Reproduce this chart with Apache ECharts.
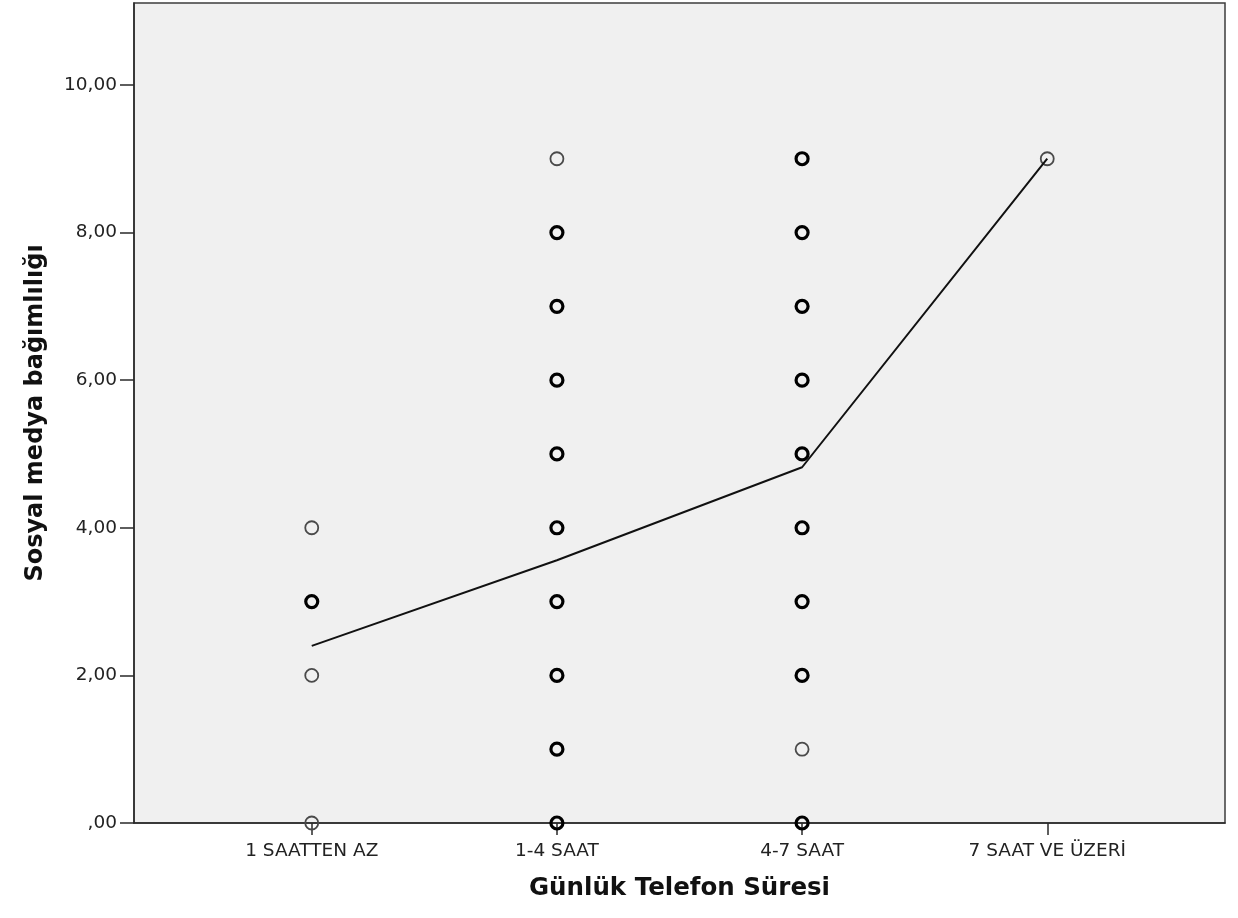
<!DOCTYPE html>
<html>
<head>
<meta charset="utf-8">
<script src="https://cdn.jsdelivr.net/npm/echarts@6/dist/echarts.min.js"></script>
<style>
  html, body { margin: 0; padding: 0; background: #fff; }
  #chart { width: 1238px; height: 918px; }
</style>
</head>
<body>
<div id="chart"></div>
<script>
// Phone-use groups on the x axis (positions 1..4)
const categories = ['1 SAATTEN AZ', '1-4 SAAT', '4-7 SAAT', '7 SAAT VE ÜZERİ'];

// Scores held by a single respondent in each group
const singleScores = [
  [0, 2, 4],
  [9],
  [1],
  [9]
];

// Scores shared by several respondents in each group (overlapping markers)
const multiScores = [
  [3],
  [0, 1, 2, 3, 4, 5, 6, 7, 8],
  [0, 2, 3, 4, 5, 6, 7, 8, 9],
  []
];

// Group means of the addiction score
const groupMeans = [2.40, 3.56, 4.82, 9.00];

// Y tick values
const yTicks = [0, 2, 4, 6, 8, 10];

function toPoints(groups) {
  const pts = [];
  groups.forEach((scores, i) => scores.forEach(s => pts.push([i + 1, s])));
  return pts;
}

function fmtY(v) {
  const s = v.toFixed(2).replace('.', ',');
  return s.startsWith('0,') ? s.slice(1) : s;
}

const chart = echarts.init(document.getElementById('chart'));
const tickFont = '"DejaVu Sans", Verdana, sans-serif';
const titleFont = '"DejaVu Sans", Verdana, sans-serif';

chart.setOption({
  animation: false,
  backgroundColor: '#ffffff',
  grid: {
    left: 134, right: 13, top: 3, bottom: 95,
    show: true, backgroundColor: '#f0f0f0',
    borderColor: '#3c3c3c', borderWidth: 1.5
  },
  xAxis: {
    type: 'value',
    min: 0.275, max: 4.725,
    name: 'Günlük Telefon Süresi',
    nameLocation: 'middle',
    nameGap: 53,
    nameTextStyle: { fontFamily: titleFont, fontWeight: 'bold', fontSize: 24.5, color: '#111' },
    axisLine: { lineStyle: { color: '#2a2a2a', width: 1.5 } },
    axisTick: { show: true, length: 12, customValues: [1, 2, 3, 4], lineStyle: { color: '#2a2a2a', width: 1.5 } },
    axisLabel: {
      customValues: [1, 2, 3, 4],
      formatter: v => categories[Math.round(v) - 1] || '',
      fontFamily: tickFont, fontSize: 18.5, color: '#222', margin: 19
    },
    splitLine: { show: false }
  },
  yAxis: {
    type: 'value',
    min: 0, max: 11.11,
    interval: 2,
    name: 'Sosyal medya bağımlılığı',
    nameLocation: 'middle',
    nameGap: 86,
    nameRotate: 90,
    nameTextStyle: { fontFamily: titleFont, fontWeight: 'bold', fontSize: 24, color: '#111' },
    axisLine: { show: true, lineStyle: { color: '#2a2a2a', width: 1.5 } },
    axisTick: { show: true, length: 14, customValues: yTicks, lineStyle: { color: '#2a2a2a', width: 1.5 } },
    axisLabel: {
      customValues: yTicks,
      formatter: fmtY,
      fontFamily: tickFont, fontSize: 18.5, color: '#222', margin: 17
    },
    splitLine: { show: false }
  },
  series: [
    {
      name: 'single',
      type: 'scatter',
      data: toPoints(singleScores),
      symbol: 'circle',
      symbolSize: 13,
      itemStyle: { color: 'rgba(0,0,0,0)', borderColor: '#4a4a4a', borderWidth: 1.8, opacity: 1 },
      z: 3
    },
    {
      name: 'multi',
      type: 'scatter',
      data: toPoints(multiScores),
      symbol: 'circle',
      symbolSize: 12,
      itemStyle: { color: 'rgba(0,0,0,0)', borderColor: '#000000', borderWidth: 3.2, opacity: 1 },
      z: 3
    },
    {
      name: 'mean',
      type: 'line',
      data: groupMeans.map((m, i) => [i + 1, m]),
      symbol: 'none',
      lineStyle: { color: '#111111', width: 2 },
      z: 4
    }
  ]
});
</script>
</body>
</html>
